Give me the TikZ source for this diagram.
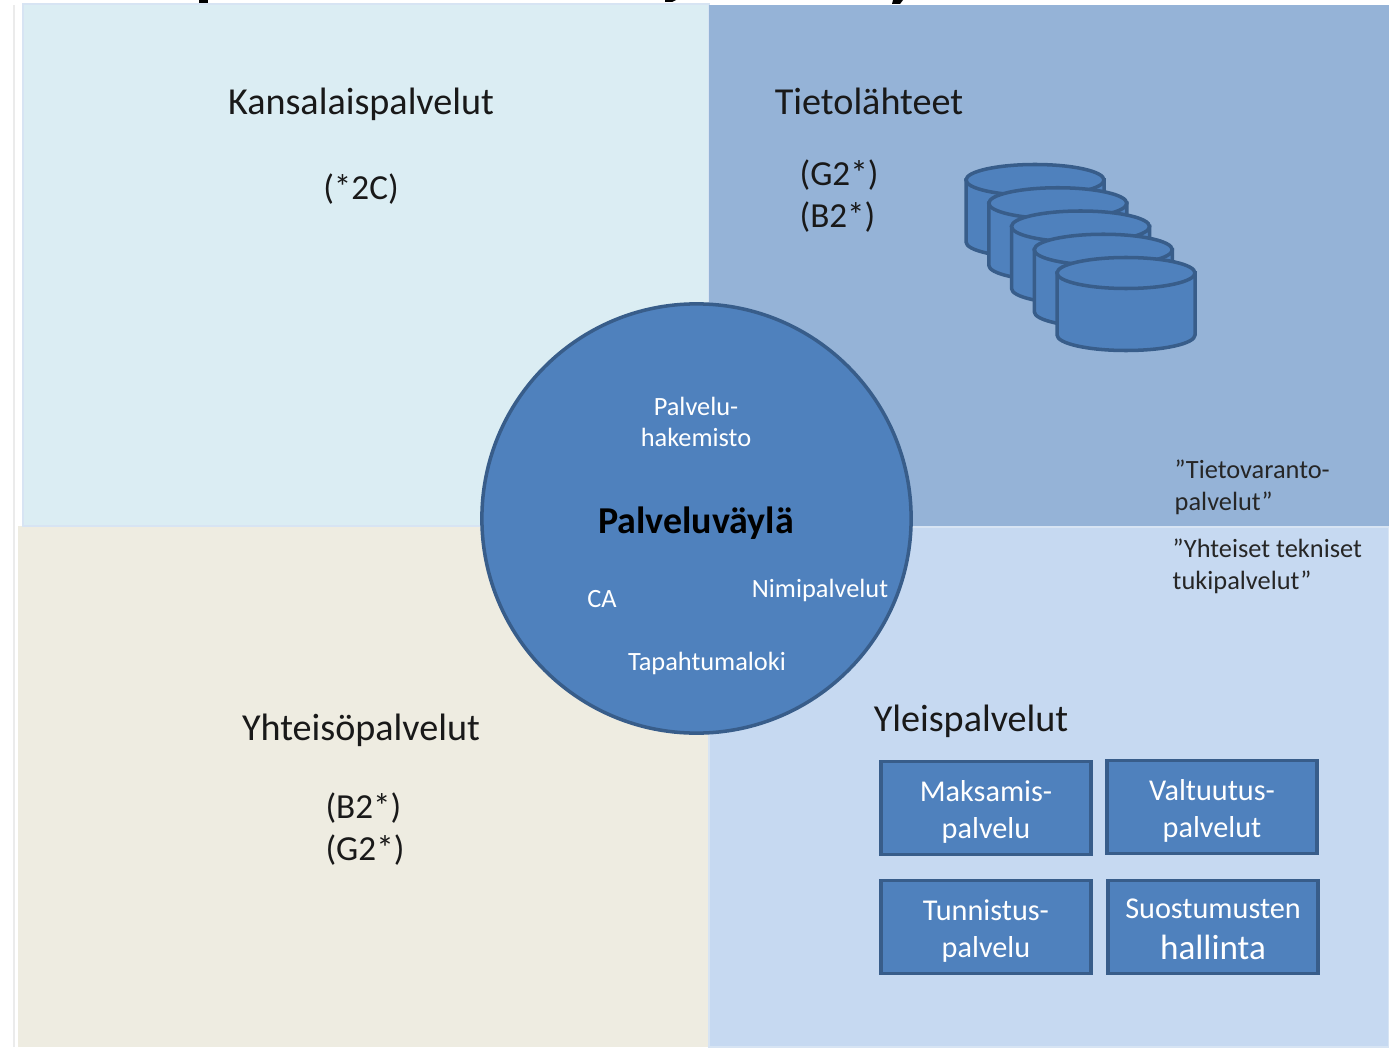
\documentclass[tikz,border=0pt]{standalone}
\usepackage{fontspec}
\setmainfont{Carlito}
\definecolor{citizen}{HTML}{DBEDF3}
\definecolor{source}{HTML}{95B3D7}
\definecolor{common}{HTML}{C6D9F1}
\definecolor{society}{HTML}{EEECE1}
\definecolor{busblue}{HTML}{4F81BD}
\definecolor{busedge}{HTML}{385D8A}
\definecolor{paleedge}{HTML}{D7E4F3}
\newcommand{\boxtop}[1]{\rule{0pt}{#1}}

\begin{document}
\begin{tikzpicture}[x=.01cm,y=-.01cm,
	quadrant/.style={draw=paleedge,line width=.5pt},
	heading/.style={font=\fontsize{10.85}{12}\selectfont,text=black!90,inner sep=0},
	tagline/.style={font=\fontsize{10}{11.9}\selectfont,text=black!90,inner sep=0,align=left},
	notetext/.style={font=\fontsize{7.5}{9.1}\selectfont,text=black!85,inner sep=0,align=left,anchor=west},
	inbus/.style={font=\fontsize{7.5}{9}\selectfont,text=white,inner sep=0,align=center},
	servicebox/.style={draw=busedge,fill=busblue,line width=1pt,minimum width=2.10cm,minimum height=.93cm,inner sep=0,
		text=white,align=center,font=\fontsize{8.6}{10.5}\selectfont},
	drum/.style={draw=busedge,fill=busblue,line width=1pt},
	titlebit/.style={fill=black}]
	\useasboundingbox (0,0) rectangle (1389,1049);
	
	\draw[black!8,line width=.5pt] (14,5) -- (14,1047);
	\fill[titlebit] (199,0) rectangle (208,3);
	\fill[titlebit] (665,0) -- (676,0) -- (672,2) -- (665,2) -- cycle;
	\fill[titlebit] (893,0) -- (903,0) -- (900,4) -- (892,4) -- cycle;
	
	\fill[society] (18,526) rectangle (709,1047);
	\fill[citizen,quadrant] (23,4) rectangle (709,526);
	\fill[common,quadrant] (709,527) rectangle (1389,1047);
	\fill[source] (709,5) rectangle (1389,526);
	
	\node[heading] (citizen) at (361,104) {Kansalaispalvelut};
	\node[tagline] (citizenx) at (361,189) {(*2C)};
	\node[heading] (source) at (869,101) {Tietolähteet};
	\node[tagline] (sourcex) at (839,196) {(G2*)\\(B2*)};
	\node[heading] (society) at (361,730) {Yhteisöpalvelut};
	\node[tagline] (societyx) at (365,829) {(B2*)\\(G2*)};
	\node[heading] (common) at (971,721) {Yleispalvelut};
	
	\foreach \i in {0,...,4}{
		\path[drum] ({966+22.75*\i},{180+23.25*\i}) -- ++(0,62)
			arc [x radius=69,y radius=15.5,start angle=180,end angle=0] -- ++(0,-62) -- cycle;
		\path[drum] ({1035+22.75*\i},{180+23.25*\i}) ellipse [x radius=69,y radius=15.5];
	}
	
	\node[notetext] (storenote) at (1174,487) {”Tietovaranto-\\palvelut”};
	\node[notetext] (technote) at (1172,566) {”Yhteiset tekniset\\tukipalvelut”};
	
	\node[circle,draw=busedge,fill=busblue,line width=1pt,minimum size=4.29cm,inner sep=0] (bus) at (696.5,518.5) {};
	\node[inbus] (directory) at (696,422) {Palvelu-\\hakemisto};
	\node[inner sep=0,font=\fontsize{10.8}{12}\selectfont\bfseries,text=black] (busname) at (696,523) {Palveluväylä};
	\node[inbus] (ca) at (602,599) {CA};
	\node[inbus] (names) at (820,590) {Nimipalvelut};
	\node[inbus] (eventlog) at (707,663) {Tapahtumaloki};
	
	\node[servicebox] (pay) at (986,808) {\boxtop{8pt}Maksamis-\\palvelu};
	\node[servicebox] (mandate) at (1212,807) {\boxtop{8pt}Valtuutus-\\palvelut};
	\node[servicebox] (ident) at (986,927) {\boxtop{8pt}Tunnistus-\\palvelu};
	\node[servicebox] (consent) at (1213,927) {\boxtop{7pt}Suostumusten\\[1pt]{\fontsize{10}{11}\selectfont hallinta}};
\end{tikzpicture}
\end{document}
